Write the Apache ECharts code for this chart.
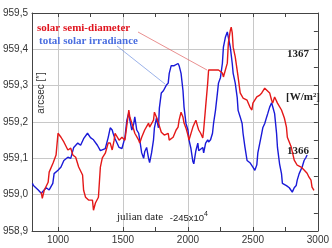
<!DOCTYPE html>
<html><head><meta charset="utf-8">
<script src="https://cdn.jsdelivr.net/npm/echarts@6/dist/echarts.min.js"></script>
<style>html,body{margin:0;padding:0;background:#fff}#c{width:332px;height:248px}</style>
</head><body><div id="c"></div>
<script>
// solar semi-diameter (arcsec) vs julian date -2450000
const redJD = [871,879,894,924,932,962,985,1000,1023,1045,1076,1098,1114,1136,1159,1189,1197,1212,1235,1265,1273,1288,1311,1326,1341,1364,1386,1402,1417,1432,1439,1470,1492,1515,1545,1553,1568,1583,1591,1621,1629,1644,1667,1697,1705,1735,1742,1758,1773,1795,1818,1848,1856,1886,1909,1924,1932,1947,1962,1970,1985,2000,2008,2023,2038,2045,2061,2076,2083,2098,2114,2121,2136,2152,2159,2174,2212,2235,2265,2273,2288,2303,2311,2326,2333,2341,2348,2364,2379,2386,2402,2424,2455,2477,2492,2500,2530,2553,2568,2591,2606,2629,2644,2652,2667,2689,2720,2742,2758,2765,2795,2818,2841,2871,2894,2917,2932,2947,2955,2970];
const redVal = [959.007,958.990,959.012,959.034,959.062,959.087,959.109,959.169,959.158,959.145,959.123,959.128,959.109,959.103,959.076,959.054,959.012,958.993,958.985,958.985,958.957,958.977,958.993,959.076,959.101,959.114,959.142,959.142,959.123,959.150,959.169,959.150,959.158,959.150,959.233,959.213,959.197,959.200,959.169,959.150,959.142,959.158,959.178,959.197,959.186,959.205,959.227,959.213,959.197,959.172,959.164,959.169,959.150,959.158,959.178,959.186,959.205,959.227,959.213,959.197,959.183,959.164,959.150,959.150,959.186,959.191,959.205,959.186,959.178,959.169,959.156,959.178,959.241,959.307,959.343,959.348,959.343,959.343,959.335,959.324,959.321,959.362,959.417,959.452,959.461,959.445,959.406,959.379,959.376,959.324,959.280,959.266,959.260,959.241,959.233,959.252,959.269,959.274,959.280,959.293,959.296,959.280,959.260,959.252,959.269,959.252,959.233,959.211,959.186,959.158,959.131,959.095,959.081,959.076,959.068,959.059,959.048,959.040,959.021,959.012];
// total solar irradiance (W/m2)
const blueJD = [803,811,848,871,909,932,960,970,1000,1023,1045,1076,1098,1121,1152,1174,1197,1227,1250,1273,1303,1326,1341,1364,1386,1402,1417,1424,1439,1470,1492,1515,1530,1545,1553,1568,1583,1591,1606,1621,1629,1644,1659,1667,1682,1697,1705,1720,1735,1742,1758,1773,1780,1795,1811,1818,1833,1848,1856,1871,1894,1909,1924,1932,1947,1962,1970,1985,2000,2008,2023,2038,2045,2061,2076,2083,2114,2121,2136,2152,2159,2174,2189,2197,2212,2227,2235,2250,2265,2273,2288,2303,2311,2326,2341,2348,2364,2379,2386,2402,2417,2424,2439,2455,2477,2500,2515,2530,2538,2553,2568,2576,2591,2606,2614,2629,2644,2652,2667,2682,2689,2705,2720,2727,2758,2780,2795,2803,2818,2833,2841,2856,2871,2879,2894,2909,2917];
const blueVal = [1365.77,1365.75,1365.71,1365.68,1365.73,1365.71,1365.77,1365.86,1365.89,1365.92,1365.98,1366.01,1366.00,1366.10,1366.14,1366.12,1366.18,1366.23,1366.19,1366.17,1366.12,1366.07,1366.06,1366.09,1366.19,1366.28,1366.26,1366.23,1366.18,1366.10,1366.09,1366.19,1366.35,1366.42,1366.35,1366.26,1366.32,1366.38,1366.26,1366.23,1366.17,1366.05,1366.00,1366.06,1366.10,1366.00,1365.96,1366.05,1366.17,1366.28,1366.37,1366.28,1366.46,1366.60,1366.62,1366.61,1366.67,1366.69,1366.78,1366.85,1366.85,1366.84,1366.87,1366.85,1366.78,1366.62,1366.47,1366.32,1366.26,1366.17,1366.09,1365.97,1365.95,1366.07,1366.14,1366.07,1366.10,1366.05,1366.14,1366.17,1366.15,1366.17,1366.23,1366.32,1366.44,1366.60,1366.69,1366.74,1366.87,1367.02,1367.11,1367.16,1367.11,1367.02,1366.87,1366.78,1366.69,1366.56,1366.44,1366.38,1366.32,1366.23,1366.10,1365.98,1365.96,1365.92,1365.89,1365.94,1366.05,1366.14,1366.23,1366.28,1366.32,1366.38,1366.41,1366.47,1366.51,1366.51,1366.41,1366.23,1366.10,1365.95,1365.86,1365.77,1365.75,1365.73,1365.72,1365.69,1365.73,1365.75,1365.80,1365.86,1365.87,1365.92,1365.98,1366.01,1366.03];
const xLabelValues = [1000,1500,2000,2500,3000];
const xTickValues = [1000,1250,1500,1750,2000,2250,2500,2750,3000];
const xGridValues = [1000,1500,2000,2500];

const chart = echarts.init(document.getElementById('c'), null, {renderer:'canvas'});
const axisCol = '#444';
const serif = '"Liberation Serif","Times New Roman",serif';
const sans = '"Liberation Sans",Arial,sans-serif';
chart.setOption({
  animation:false,
  grid:{left:29,right:13,top:13,bottom:17},
  xAxis:[
    {type:'value',position:'bottom',min:800,max:3000,
     axisLine:{show:true,lineStyle:{color:axisCol}},
     axisTick:{show:true,inside:true,length:4,customValues:xTickValues,lineStyle:{color:axisCol}},
     axisLabel:{customValues:xLabelValues,color:'#333',fontSize:10,fontFamily:sans,margin:4,
       formatter:v=>String(Math.round(v))},
     splitLine:{show:false}},
    {type:'value',position:'top',min:800,max:3000,
     axisLine:{show:true,lineStyle:{color:axisCol}},
     axisTick:{show:true,inside:true,length:4,customValues:xTickValues,lineStyle:{color:axisCol}},
     axisLabel:{show:false},splitLine:{show:false}},
    {type:'value',position:'bottom',min:800,max:3000,
     axisLine:{show:false},
     axisTick:{show:false,customValues:xGridValues},
     axisLabel:{show:false},
     splitLine:{show:true,lineStyle:{color:'#c8c8c8',width:1}}}
  ],
  yAxis:[
    {type:'value',position:'left',min:958.9,max:959.5,interval:0.1,
     axisLine:{show:true,lineStyle:{color:axisCol}},
     axisTick:{show:false},
     axisLabel:{color:'#333',fontSize:10,fontFamily:sans,margin:4,
       formatter:v=>v.toFixed(1).replace('.',',')},
     splitLine:{show:true,lineStyle:{color:'#c8c8c8',width:1}}},
    {type:'value',position:'right',min:1365+1/3,max:1367+1/3,show:false},
    {type:'value',position:'right',min:958.9,max:959.5,interval:0.05,
     axisLine:{show:true,lineStyle:{color:axisCol}},
     axisTick:{show:true,inside:true,length:4,lineStyle:{color:axisCol}},
     axisLabel:{show:false},splitLine:{show:false}}
  ],
  series:[
    {type:'line',name:'total solar irradiance',xAxisIndex:0,yAxisIndex:1,showSymbol:false,
     data:blueJD.map((x,i)=>[x,blueVal[i]]),lineStyle:{color:'#1a1ad8',width:1.4}},
    {type:'line',name:'solar semi-diameter',xAxisIndex:0,yAxisIndex:0,showSymbol:false,
     data:redJD.map((x,i)=>[x,redVal[i]]),lineStyle:{color:'#e41818',width:1.4}}
  ],
  graphic:[
    {type:'line',shape:{x1:138,y1:32,x2:207,y2:70},style:{stroke:'#e06060',lineWidth:0.7},z:50},
    {type:'line',shape:{x1:117,y1:46,x2:165,y2:84},style:{stroke:'#7090e0',lineWidth:0.7},z:50},
    {type:'text',left:37,top:23,z:60,style:{text:'solar semi-diameter',fill:'#e0141e',font:'bold 11px '+serif}},
    {type:'text',left:39,top:36,z:60,style:{text:'total solar irradiance',fill:'#4a6ee0',font:'bold 11px '+serif}},
    {type:'text',left:287,top:49,z:60,style:{text:'1367',fill:'#222',font:'bold 11px '+serif}},
    {type:'text',left:286,top:92,z:60,style:{text:'[W/m²]',fill:'#222',font:'bold 11px '+serif}},
    {type:'text',left:287,top:146,z:60,style:{text:'1366',fill:'#222',font:'bold 11px '+serif}},
    {type:'text',x:41,y:93,rotation:Math.PI/2,z:60,
     style:{text:'arcsec [″]',fill:'#333',font:'10px '+sans,align:'center',verticalAlign:'middle'}},
    {type:'text',left:117,top:211,z:60,style:{
      text:'{a|julian date}  {b|-245x10}{c|4}',
      rich:{a:{font:'11px '+serif,fill:'#222',verticalAlign:'bottom'},
            b:{font:'9.5px '+sans,fill:'#222',verticalAlign:'bottom'},
            c:{font:'7px '+sans,fill:'#222',verticalAlign:'top'}}}}
  ]
});
</script></body></html>
